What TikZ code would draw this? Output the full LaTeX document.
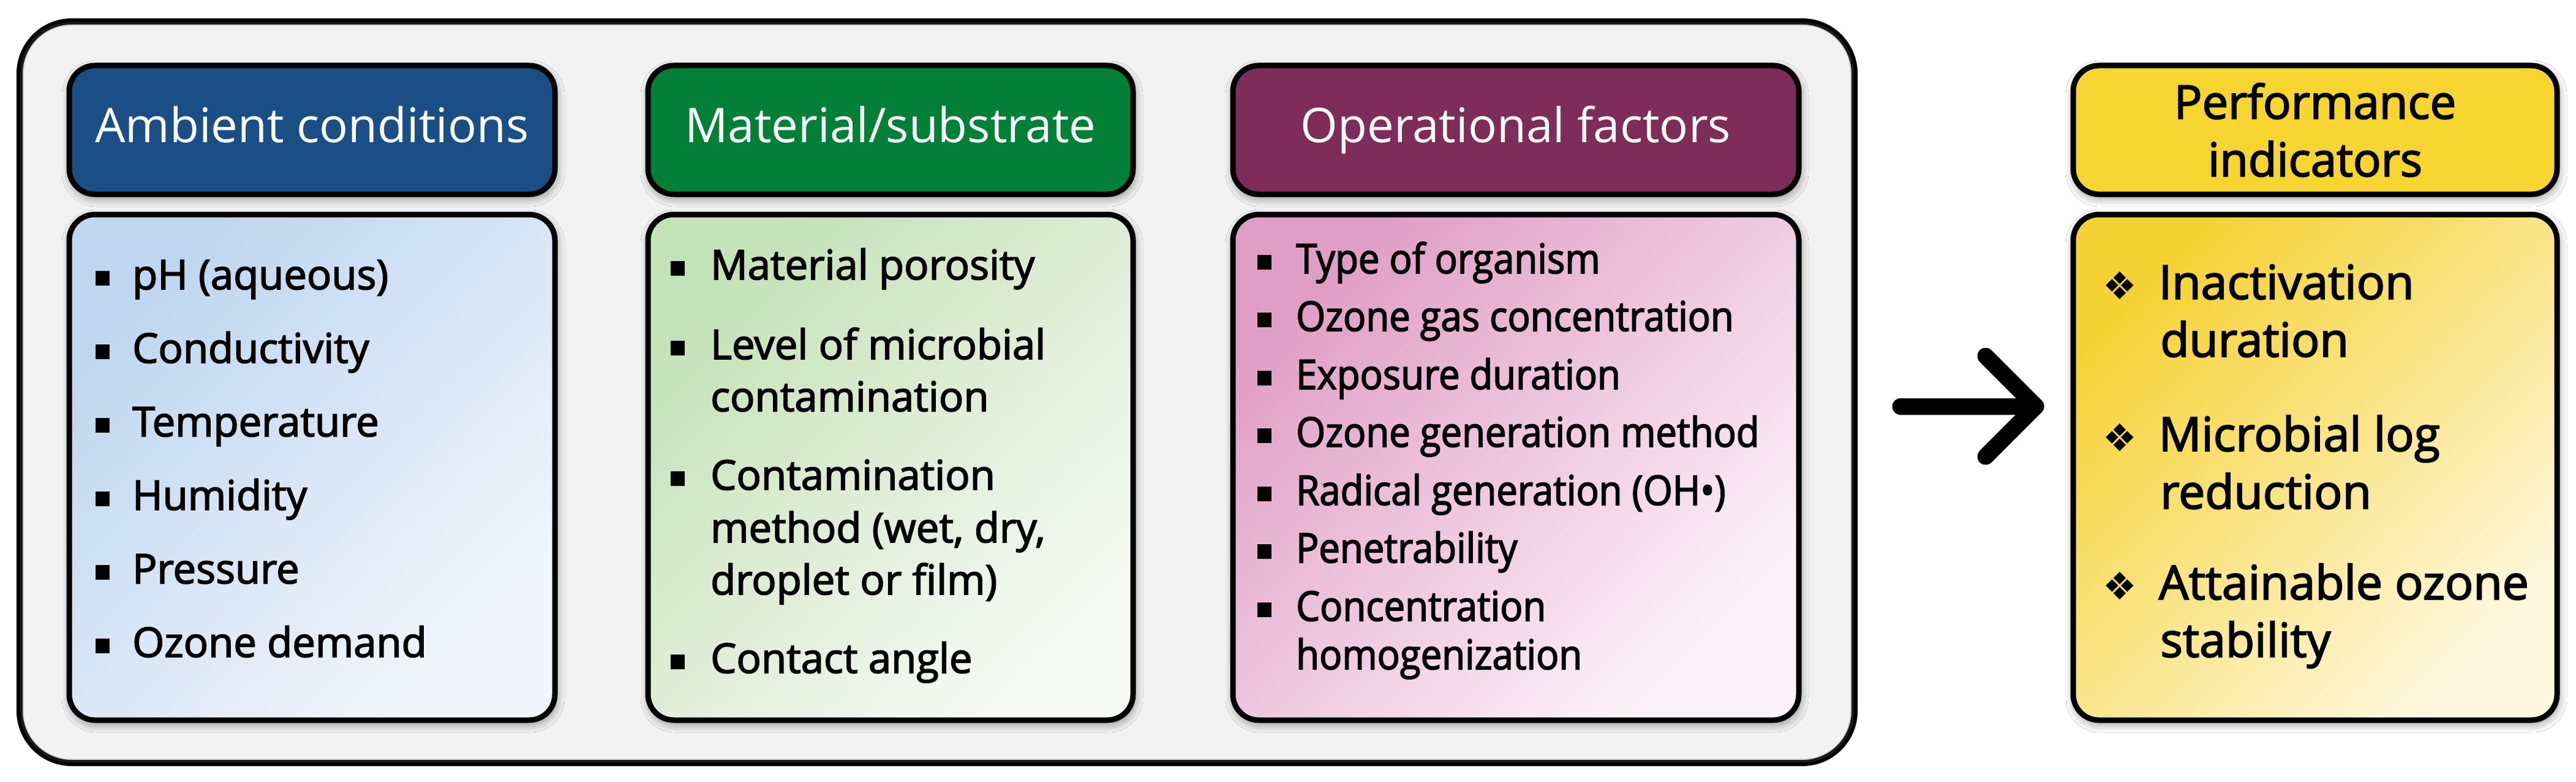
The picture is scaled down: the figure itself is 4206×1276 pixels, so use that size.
\documentclass[tikz,border=0pt]{standalone}
\usepackage{fontspec}
\setmainfont{Open Sans}
\newfontfamily\bodyfont{Open Sans}[FakeBold=2.5]
\newfontfamily\condfont{Open Sans}[FakeStretch=0.92,FakeBold=2.5]
\newfontfamily\dejafont{DejaVu Sans}
\usetikzlibrary{shadows.blur}
\definecolor{hblue}{RGB}{26,79,134}
\definecolor{hgreen}{RGB}{3,128,56}
\definecolor{hpurple}{RGB}{126,44,90}
\definecolor{hyellow}{RGB}{246,213,48}
\definecolor{outerfill}{RGB}{242,242,242}
\definecolor{bblueA}{RGB}{190,214,239}
\definecolor{bblueB}{RGB}{242,246,252}
\definecolor{bgreenA}{RGB}{196,226,184}
\definecolor{bgreenB}{RGB}{247,250,244}
\definecolor{bpinkA}{RGB}{224,158,198}
\definecolor{bpinkB}{RGB}{253,244,249}
\definecolor{byellowA}{RGB}{245,210,52}
\definecolor{byellowB}{RGB}{254,248,222}
\newcommand\sqbul{\rule[6pt]{23pt}{24pt}}
\newcommand\dmbul{{\dejafont\fontsize{62pt}{70pt}\selectfont ❖}}
\tikzset{
  softshadow/.style={blur shadow={shadow blur radius=14pt, shadow xshift=2pt, shadow yshift=-6pt, shadow opacity=45, shadow blur steps=8}},
  outerbox/.style={draw=black, line width=10pt, rounded corners=85pt, fill=outerfill, inner sep=0pt},
  innerglow/.style={draw=black!#1, line width=6pt, rounded corners=78pt, opacity=0.25},
  hdrbox/.style={draw=black, line width=9pt, rounded corners=42pt, inner sep=0pt, minimum height=210pt, softshadow},
  hdrtxt/.style={text=white, font=\fontsize{78pt}{94pt}\selectfont, text height=56pt, text depth=14pt},
  bodybox/.style n args={2}{draw=black, line width=9pt, rounded corners=42pt, inner sep=0pt, minimum height=825pt, top color=#1, bottom color=#2, shading angle=45, softshadow},
  itm/.style={anchor=base west, inner sep=0pt, font=\bodyfont\fontsize{67pt}{80pt}\selectfont},
  itmc/.style={anchor=base west, inner sep=0pt, font=\condfont\fontsize{67pt}{80pt}\selectfont},
  itmp/.style={anchor=base west, inner sep=0pt, font=\bodyfont\fontsize{77pt}{94pt}\selectfont},
  arrowline/.style={draw=black, line width=27pt, line cap=round, line join=round}
}
\begin{document}
\begin{tikzpicture}[x=1pt,y=-1pt]
\useasboundingbox (0,0) rectangle (4206,1276);
\fill[white] (0,0) rectangle (4206,1276);
% outer frame
\node[outerbox, minimum width=2996pt, minimum height=1210pt] (outer) at (1530,640) {};
\draw[innerglow=60, rounded corners=80pt] ([xshift=9pt,yshift=-9pt]outer.north west) rectangle ([xshift=-9pt,yshift=9pt]outer.south east);
% headers
\node[hdrbox, hdrtxt, fill=hblue, minimum width=793pt] (h1) at (509.5,212) {Ambient conditions};
\node[hdrbox, hdrtxt, fill=hgreen, minimum width=792pt] (h2) at (1454,212) {Material/substrate};
\node[hdrbox, hdrtxt, fill=hpurple, minimum width=924pt] (h3) at (2475,212) {Operational factors};
\node[hdrbox, fill=hyellow, minimum width=790pt, align=center, text=black, font=\bodyfont\fontsize{76pt}{94pt}\selectfont] (hp) at (3780,212) {Performance\\indicators};
% bodies
\node[bodybox={bblueA}{bblueB}, minimum width=793pt] (b1) at (509.5,762.5) {};
\node[bodybox={bgreenA}{bgreenB}, minimum width=792pt] (b2) at (1454,762.5) {};
\node[bodybox={bpinkA}{bpinkB}, minimum width=924pt] (b3) at (2475,762.5) {};
\node[bodybox={byellowA}{byellowB}, minimum width=790pt] (bp) at (3780,762.5) {};
% column 1
\node[itm] (c1a) at (156,472) {\sqbul\hspace{37pt}pH (aqueous)};
\node[itm] (c1b) at (156,592) {\sqbul\hspace{37pt}Conductivity};
\node[itm] (c1c) at (156,712) {\sqbul\hspace{37pt}Temperature};
\node[itm] (c1d) at (156,832) {\sqbul\hspace{37pt}Humidity};
\node[itm] (c1e) at (156,952) {\sqbul\hspace{37pt}Pressure};
\node[itm] (c1f) at (156,1072) {\sqbul\hspace{37pt}Ozone demand};
% column 2
\node[itm] (c2a) at (1095,456) {\sqbul\hspace{42pt}Material porosity};
\node[itm] (c2b) at (1095,586) {\sqbul\hspace{42pt}Level of microbial};
\node[itm] (c2b2) at (1160,671) {contamination};
\node[itm] (c2c) at (1095,799) {\sqbul\hspace{42pt}Contamination};
\node[itm] (c2c2) at (1160,885) {method (wet, dry,};
\node[itm] (c2c3) at (1160,970) {droplet or film)};
\node[itm] (c2d) at (1095,1098) {\sqbul\hspace{42pt}Contact angle};
% column 3
\node[itmc] (c3a) at (2053,446) {\sqbul\hspace{40pt}Type of organism};
\node[itmc] (c3b) at (2053,540) {\sqbul\hspace{40pt}Ozone gas concentration};
\node[itmc] (c3c) at (2053,635) {\sqbul\hspace{40pt}Exposure duration};
\node[itmc] (c3d) at (2053,729) {\sqbul\hspace{40pt}Ozone generation method};
\node[itmc] (c3e) at (2053,824) {\sqbul\hspace{40pt}Radical generation (OH\textbullet)};
\node[itmc] (c3f) at (2053,918) {\sqbul\hspace{40pt}Penetrability};
\node[itmc] (c3g) at (2053,1013) {\sqbul\hspace{40pt}Concentration};
\node[itmc] (c3g2) at (2116,1092) {homogenization};
% performance indicators
\node[itmp] (p1) at (3433,488) {\dmbul\hspace{36pt}Inactivation};
\node[itmp] (p1b) at (3527,582) {duration};
\node[itmp] (p2) at (3433,736) {\dmbul\hspace{36pt}Microbial log};
\node[itmp] (p2b) at (3527,830) {reduction};
\node[itmp] (p3) at (3433,978) {\dmbul\hspace{36pt}Attainable ozone};
\node[itmp] (p3b) at (3527,1072) {stability};
% arrow
\coordinate (a0) at (3103,663);
\coordinate (a1) at (3324,663);
\coordinate (a2) at (3242,581);
\coordinate (a3) at (3242,745);
\draw[arrowline] (a0) -- (a1);
\draw[arrowline] (a2) -- (a1) -- (a3);
\end{tikzpicture}
\end{document}
